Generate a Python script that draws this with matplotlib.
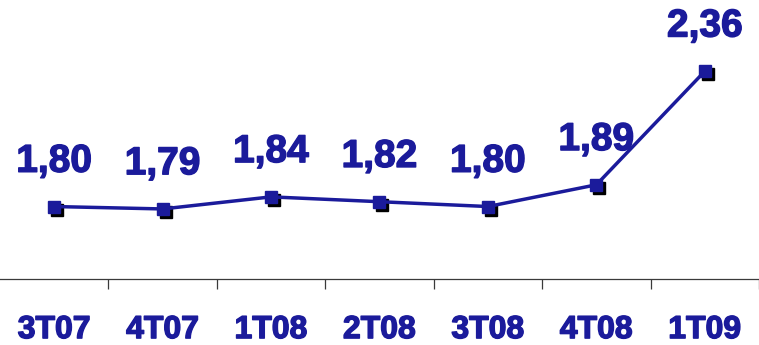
import matplotlib.pyplot as plt
import matplotlib.patheffects as pe
import matplotlib.transforms as mtransforms
import numpy as np

quarters = ["3T07", "4T07", "1T08", "2T08", "3T08", "4T08", "1T09"]
values = [1.80, 1.79, 1.84, 1.82, 1.80, 1.89, 2.36]

BLUE = "#1b1b9b"
AXIS = "#3a3a3a"

fig = plt.figure(figsize=(7.59, 3.45), dpi=100)
ax = fig.add_axes([0, 0.1913, 1, 0.8087])

x = np.arange(len(quarters))

# heavier strokes on the bold text
heavy = [pe.withStroke(linewidth=1.0, foreground=BLUE)]

# drop shadow under the markers
shadow = ax.transData + mtransforms.ScaledTranslation(3 / 100, -3 / 100, fig.dpi_scale_trans)
ax.plot(x, values, linestyle="none", marker="s", markersize=9, color="black",
        transform=shadow, zorder=2)
ax.plot(x, values, color=BLUE, linewidth=2.5, marker="s", markersize=9, zorder=3)

for xi, v in zip(x, values):
    ax.annotate(f"{v:.2f}".replace(".", ","), (xi, v), xytext=(0, 25),
                textcoords="offset points", ha="center", va="baseline",
                fontsize=28, fontweight="bold", color=BLUE,
                family="Liberation Sans", path_effects=heavy)

ax.set_xlim(-0.5, len(quarters) - 0.5)
ax.set_ylim(1.5, 2.655)

ax.set_xticks(x)
ax.set_xticklabels(quarters, fontsize=23, fontweight="bold", color=BLUE,
                   family="Liberation Sans", path_effects=heavy)
ax.tick_params(axis="x", which="major", length=0, pad=26)
ax.set_xticks(np.arange(len(quarters)) + 0.5, minor=True)
ax.tick_params(axis="x", which="minor", length=7, width=0.9, color=AXIS, direction="out")
ax.set_yticks([])

for side in ["top", "left", "right"]:
    ax.spines[side].set_visible(False)
ax.spines["bottom"].set_color(AXIS)
ax.spines["bottom"].set_linewidth(0.9)

fig.savefig("out.png", dpi=100)
